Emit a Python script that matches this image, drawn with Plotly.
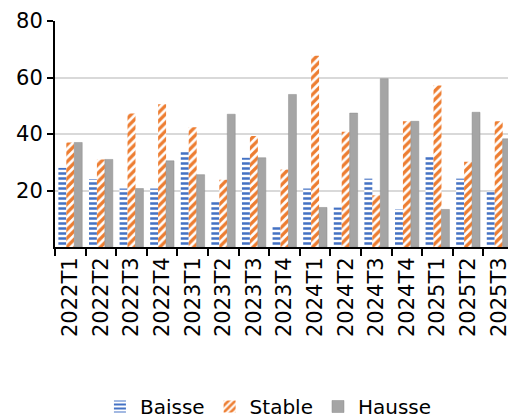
import plotly.graph_objects as go

quarters = ['2022T1', '2022T2', '2022T3', '2022T4', '2023T1', '2023T2', '2023T3', '2023T4',
            '2024T1', '2024T2', '2024T3', '2024T4', '2025T1', '2025T2', '2025T3']
baisse = [28, 24, 20.7, 20.7, 34, 16, 31.6, 7.3, 20.7, 14, 24.2, 13.3, 32, 24.2, 19.6]
stable = [37, 31, 47.3, 50.5, 42.4, 23.8, 39.3, 27.4, 67.7, 40.8, 18.3, 44.5, 57.2, 30.2, 44.5]
hausse = [37, 31, 20.7, 30.5, 25.6, 47, 31.6, 54, 14, 47.4, 59.6, 44.5, 13.3, 47.7, 38.3]

fig = go.Figure()

# Baisse: blue dashed horizontal pattern
fig.add_trace(go.Bar(
    x=quarters, y=baisse, name='Baisse',
    marker=dict(color='#4472C4', line=dict(width=0),
                pattern=dict(shape='-', fgcolor='#4472C4', bgcolor='white',
                             size=5, solidity=0.5, fillmode='replace'))
))

# Stable: orange diagonal stripes
fig.add_trace(go.Bar(
    x=quarters, y=stable, name='Stable',
    marker=dict(color='#ED7D31', line=dict(width=0),
                pattern=dict(shape='/', fgcolor='#ED7D31', bgcolor='white',
                             size=6, solidity=0.55, fillmode='replace'))
))

# Hausse: plain grey
fig.add_trace(go.Bar(
    x=quarters, y=hausse, name='Hausse',
    marker=dict(color='#A5A5A5', line=dict(color='#8C8C8C', width=0.5))
))

# page body adds an 8px offset, so the figure is sized/margined to compensate
fig.update_layout(
    width=508,
    height=418,
    barmode='group',
    bargap=0.22,
    bargroupgap=0,
    font=dict(family='DejaVu Sans', size=21, color='black'),
    xaxis=dict(
        type='category',
        tickangle=-90,
        showline=True,
        linecolor='black',
        linewidth=2,
        ticks='outside',
        tickson='boundaries',
        ticklen=7,
        tickwidth=2,
        tickcolor='black',
        showgrid=False,
    ),
    yaxis=dict(
        range=[0, 80],
        tickvals=[20, 40, 60, 80],
        showline=True,
        linecolor='black',
        linewidth=2,
        ticks='outside',
        ticklen=6,
        tickwidth=2,
        tickcolor='black',
        showgrid=True,
        gridcolor='#D9D9D9',
        gridwidth=2,
        zeroline=False,
    ),
    showlegend=True,
    legend=dict(
        orientation='h',
        xanchor='center',
        x=0.465,
        yanchor='middle',
        y=-0.70,
        font=dict(size=20),
        bgcolor='rgba(0,0,0,0)',
        itemwidth=30,
    ),
    margin=dict(t=13, b=178, l=47, r=2),
    paper_bgcolor='white',
    plot_bgcolor='white',
)

fig.write_html("out.html")
